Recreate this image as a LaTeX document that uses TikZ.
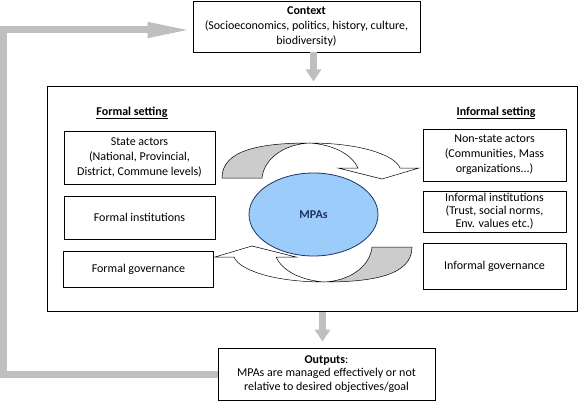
\documentclass[tikz,border=0pt]{standalone}
\usepackage{fontspec}
\setmainfont{Carlito}
\usetikzlibrary{arrows.meta,shapes.geometric}

\definecolor{flowgray}{RGB}{191,191,191}
\definecolor{shadegray}{RGB}{204,204,204}
\definecolor{mpablue}{RGB}{155,204,250}
\definecolor{mpanavy}{RGB}{31,50,99}

%% one curved arrow over the MPAs, centred on the origin
\newcommand{\turnarrow}{
  \filldraw[fill=shadegray, line width=0.5pt] (-95,-34.5)
    .. controls (-95,-62.5) and (-57,-69.5) .. (-7,-69.5)
    .. controls (-32,-68.5) and (-53,-54.5) .. (-55,-34.5) -- cycle;
  \filldraw[fill=white, line width=0.5pt] (-7,-69.5)
    .. controls (43,-69.5) and (78,-57.5) .. (83,-44.5)
    -- (102,-44.5) -- (65,-33.5) -- (21,-44.5) -- (41,-44.5)
    .. controls (35,-57.5) and (18,-67.5) .. (-7,-69.5) -- cycle;
}

\begin{document}
\begin{tikzpicture}[x=1pt, y=-1pt,
  font=\fontsize{12}{15}\selectfont,
  box/.style={rectangle, draw, line width=0.8pt, align=center, inner sep=0pt},
  flow/.style={draw=flowgray, line width=7pt},
  downflow/.style={flow, -{Triangle[length=12pt, width=15pt]}}]

\useasboundingbox (0,0) rectangle (578,401);

\node (context) at (306.5, 26.5) [box, minimum width=227, minimum height=51]
  {\textbf{Context}\\(Socioeconomics, politics, history, culture,\\biodiversity)};

\node (setting) at (312, 199) [box, line width=1pt, minimum width=530,
  minimum height=224] {};

\node (formal) at (132, 113) {\underline{\textbf{Formal setting}}};
\node (informal) at (496, 113) {\underline{\textbf{Informal setting}}};

\node (state) at (139.5, 157.5) [box, minimum width=151, minimum height=53]
  {State actors\\(National, Provincial,\\District, Commune levels)};
\node (finst) at (139.5, 217.5) [box, minimum width=151, minimum height=43]
  {Formal institutions};
\node (fgov) at (138.5, 269) [box, minimum width=150, minimum height=36]
  {Formal governance};

\node (nonstate) at (494.5, 155) [box, minimum width=143, minimum height=52]
  {Non-state actors\\(Communities, Mass\\organizations...)};
\node (iinst) at (494.5, 211.5) [box, minimum width=143, minimum height=41,
  font=\fontsize{12}{13}\selectfont]
  {Informal institutions\\(Trust, social norms,\\Env. values etc.)};
\node (igov) at (494.5, 266) [box, minimum width=143, minimum height=46]
  {Informal governance};

\node (mpa) at (313.5, 214.5) [ellipse, draw=mpanavy, fill=mpablue,
  line width=0.8pt, minimum width=129, minimum height=83, text=mpanavy]
  {\textbf{MPAs}};

\begin{scope}[shift={(317,212.5)}]
  \turnarrow
\end{scope}
\begin{scope}[shift={(317,212.5)}, rotate=180]
  \turnarrow
\end{scope}

\node (outputs) at (326.5, 374) [box, minimum width=217, minimum height=52,
  font=\fontsize{12}{13.5}\selectfont]
  {\textbf{Outputs}:\\MPAs are managed effectively or not\\relative to desired objectives/goal};

\draw[downflow, shorten >=5pt] (context.south -| mpa) -- (setting.north -| mpa);
\draw[downflow, shorten >=6pt] ([xshift=-4pt]setting.south -| outputs.north)
  -- ([xshift=-4pt]outputs.north);

\coordinate (bend) at (3.5, 30);
\draw[flow, -{Triangle[length=45pt, width=14pt]}] (outputs.west) -| (bend)
  -- (bend -| context.west);

\end{tikzpicture}
\end{document}
